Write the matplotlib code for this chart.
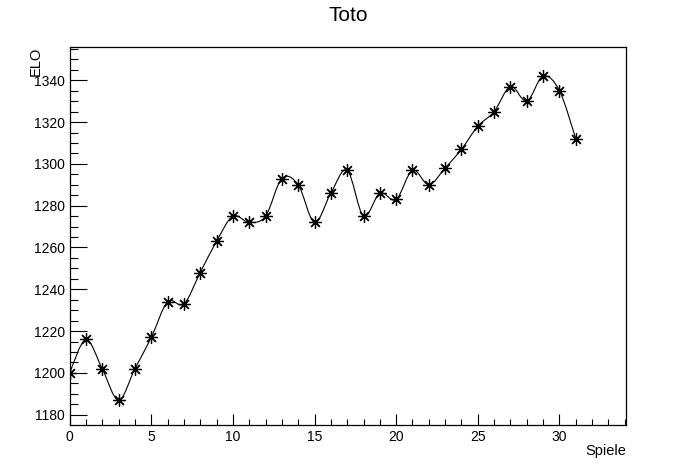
import numpy as np
import matplotlib
matplotlib.use('Agg')
import matplotlib.pyplot as plt
from matplotlib.path import Path
from matplotlib.patches import PathPatch
from matplotlib.ticker import MultipleLocator

plt.rcParams['font.family'] = ['Liberation Sans', 'DejaVu Sans']

# ELO after each game
spiele = list(range(32))
elo = [1200, 1216, 1202, 1187, 1202, 1217, 1234, 1233, 1248, 1263,
       1275, 1272, 1275, 1293, 1290, 1272, 1286, 1297, 1275, 1286,
       1283, 1297, 1290, 1298, 1307, 1318, 1325, 1337, 1330, 1342,
       1335, 1312]

fig = plt.figure(figsize=(6.96, 4.72), dpi=100)
ax = fig.add_axes([0.1, 0.1, 0.8, 0.8])

# smooth curve through the points (Catmull-Rom as cubic Bezier segments)
x = np.array(spiele, dtype=float)
y = np.array(elo, dtype=float)
px = np.concatenate([[x[0]], x, [x[-1]]])
py = np.concatenate([[y[0]], y, [y[-1]]])
verts = [(x[0], y[0])]
codes = [Path.MOVETO]
for i in range(1, len(px) - 2):
    c1 = (px[i] + (px[i + 1] - px[i - 1]) / 6, py[i] + (py[i + 1] - py[i - 1]) / 6)
    c2 = (px[i + 1] - (px[i + 2] - px[i]) / 6, py[i + 1] - (py[i + 2] - py[i]) / 6)
    verts += [c1, c2, (px[i + 1], py[i + 1])]
    codes += [Path.CURVE4] * 3
ax.add_patch(PathPatch(Path(verts, codes), facecolor='none', edgecolor='black', lw=0.8))

ax.plot(spiele, elo, linestyle='none', marker=(8, 2, 0), markersize=9,
        markeredgewidth=0.9, color='black')

ax.set_xlim(0, 34.1)
ax.set_ylim(1175.2, 1355.8)

ax.xaxis.set_major_locator(MultipleLocator(5))
ax.xaxis.set_minor_locator(MultipleLocator(1))
ax.yaxis.set_major_locator(MultipleLocator(20))
ax.yaxis.set_minor_locator(MultipleLocator(5))

ax.tick_params(axis='y', which='major', direction='in', length=12.5, width=0.8, labelsize=10, pad=3.5)
ax.tick_params(axis='y', which='minor', direction='in', length=6, width=0.8)
ax.tick_params(axis='x', which='major', direction='in', length=8, width=0.8, labelsize=10, pad=4)
ax.tick_params(axis='x', which='minor', direction='in', length=4, width=0.8)
for s in ax.spines.values():
    s.set_linewidth(0.9)

fig.text(0.5, 1 - 15.5 / 472, 'Toto', ha='center', va='center', fontsize=15)
fig.text(36 / 696, 1 - 47 / 472, 'ELO', rotation=90, ha='center', va='top', fontsize=10.5)
fig.text(626 / 696, 1 - 451 / 472, 'Spiele', ha='right', va='center', fontsize=10.5)

fig.savefig('out.png', dpi=100)
